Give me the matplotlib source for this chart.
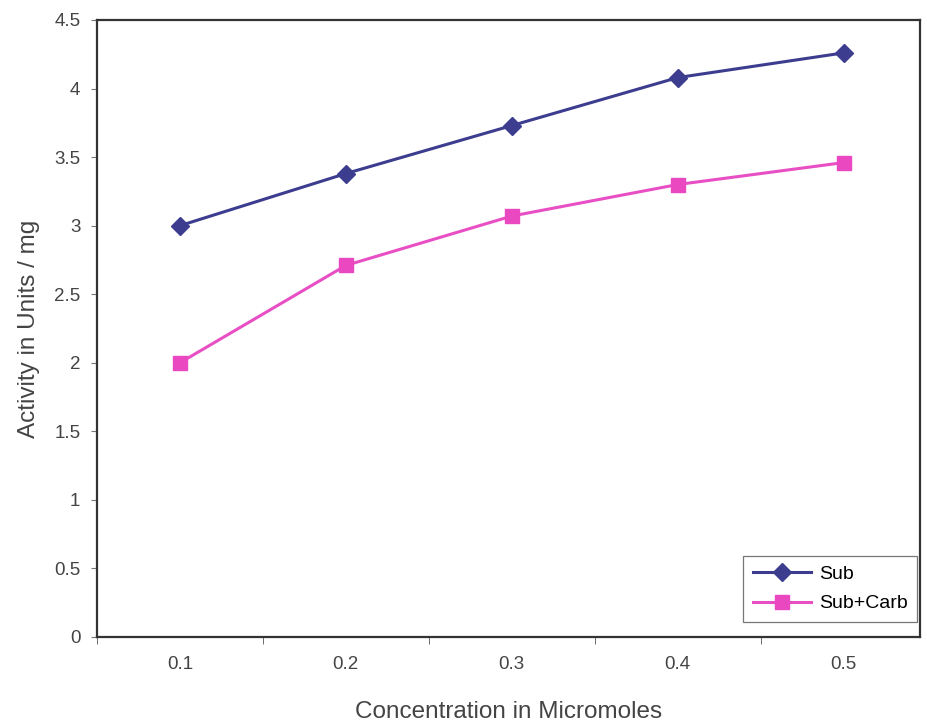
import numpy as np
import matplotlib
matplotlib.use("Agg")
import matplotlib.pyplot as plt

plt.rcParams['font.family'] = ['Liberation Sans', 'DejaVu Sans']

categories = ["0.1", "0.2", "0.3", "0.4", "0.5"]
sub = [3.00, 3.38, 3.73, 4.08, 4.26]
sub_carb = [2.00, 2.71, 3.07, 3.30, 3.46]

fig = plt.figure(figsize=(9.27, 7.27), dpi=100)
ax = fig.add_axes([0.1046, 0.1238, 0.8878, 0.8487])

x = np.arange(1, len(categories) + 1)
ax.plot(x, sub, color='#3d3d8f', lw=2.2, marker='D', markersize=9,
        markerfacecolor='#3d3d8f', markeredgecolor='#3d3d8f', label='Sub')
ax.plot(x, sub_carb, color='#e84fc4', lw=2.2, marker='s', markersize=9.5,
        markerfacecolor='#ea48c0', markeredgecolor='#ea48c0', label='Sub+Carb')

ax.set_xlim(0.5, 5.46)
ax.set_ylim(0, 4.5)
ax.set_yticks(np.arange(0, 4.51, 0.5))
ax.set_yticklabels(['0', '0.5', '1', '1.5', '2', '2.5', '3', '3.5', '4', '4.5'])
ax.set_xticks(x)
ax.set_xticklabels(categories)
ax.set_xticks(np.arange(0.5, 5.5, 1.0), minor=True)
ax.tick_params(axis='x', which='major', length=0, pad=14, labelsize=13.5, labelcolor='#444444')
ax.tick_params(axis='x', which='minor', length=5, direction='out', color='#555555')
ax.tick_params(axis='y', length=4, direction='out', color='#777777', labelsize=13.5,
               labelcolor='#444444', pad=8)

for s in ax.spines.values():
    s.set_color('#333333')
    s.set_linewidth(1.6)

ax.set_xlabel('Concentration in Micromoles', fontsize=17.5, color='#444444', labelpad=20)
ax.set_ylabel('Activity in Units / mg', fontsize=17.5, color='#444444', labelpad=10)

leg = ax.legend(loc='lower right', bbox_to_anchor=(0.997, 0.024), fontsize=14,
                frameon=True, fancybox=False, edgecolor='#555555', borderaxespad=0,
                handlelength=3.0, borderpad=0.5, labelspacing=0.6, handletextpad=0.4)
leg.get_frame().set_linewidth(0.9)

fig.savefig('out.png', dpi=100)
